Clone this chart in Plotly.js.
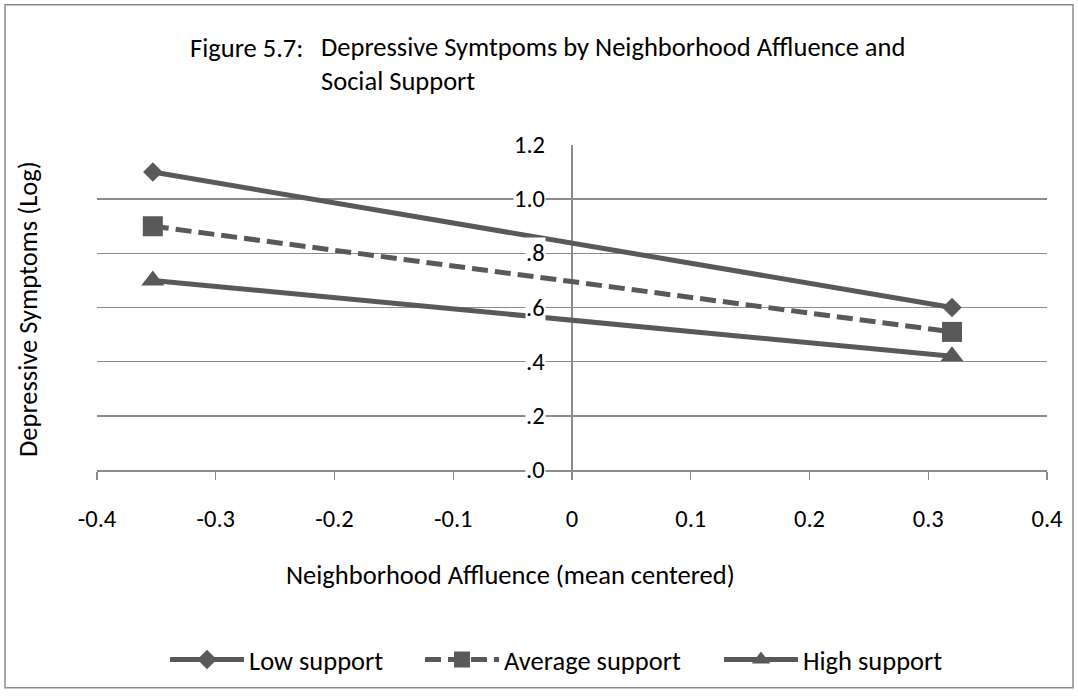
<!DOCTYPE html>
<html>
<head>
<meta charset="utf-8">
<script src="https://cdn.plot.ly/plotly-3.0.1.min.js"></script>
<style>
  html, body { margin: 0; padding: 0; background: #fff; }
  #chart { width: 1078px; height: 696px; }
</style>
</head>
<body>
<div id="chart"></div>
<script>
// Affluence values at one SD below / above the mean (mean centered)
const affluence = [-0.353, 0.32];

// Predicted depressive symptoms (log) for each level of social support
const lowSupport = [1.10, 0.60];
const averageSupport = [0.90, 0.51];
const highSupport = [0.70, 0.42];

const seriesNames = ['Low support', 'Average support', 'High support'];

// Axis ticks
const xTickVals = [-0.4, -0.3, -0.2, -0.1, 0, 0.1, 0.2, 0.3, 0.4];
const xTickText = ['-0.4', '-0.3', '-0.2', '-0.1', '0', '0.1', '0.2', '0.3', '0.4'];
const yTickVals = [0, 0.2, 0.4, 0.6, 0.8, 1.0, 1.2];
const yTickText = ['.0', '.2', '.4', '.6', '.8', '1.0', '1.2'];

const FONT = 'Carlito, Lato, sans-serif';
const INK = '#595959';
const GRID = '#8c8c8c';
const TEXT_SIZE = 26.5;
const TICK_SIZE = 24.5;

// plot area in pixels, used to place the free-floating titles and legends
const L = 97, R = 31, T = 145, B = 224;
const W = 1078 - L - R, H = 696 - T - B;
const px = x => (x - L) / W;
const py = y => (696 - B - y) / H;

const traces = [
  {
    x: affluence, y: lowSupport, name: seriesNames[0], type: 'scatter', mode: 'lines+markers',
    line: { color: INK, width: 5 },
    marker: { symbol: 'diamond', size: 15, color: INK },
    legend: 'legend'
  },
  {
    x: affluence, y: averageSupport, name: seriesNames[1], type: 'scatter', mode: 'lines+markers',
    line: { color: INK, width: 5, dash: '16px,7px' },
    marker: { symbol: 'square', size: 20, color: INK },
    legend: 'legend2'
  },
  {
    x: affluence, y: highSupport, name: seriesNames[2], type: 'scatter', mode: 'lines+markers',
    line: { color: INK, width: 5 },
    marker: { symbol: 'triangle-up', size: 20, color: INK },
    legend: 'legend3'
  }
];

// y tick labels sit beside the vertical axis at x = 0, on a white patch
const yLabelAnnotations = yTickVals.map((v, i) => ({
  x: 0, y: v, xref: 'x', yref: 'y',
  text: yTickText[i], showarrow: false,
  xanchor: 'right', yanchor: 'middle', xshift: -26,
  bgcolor: '#ffffff', borderpad: 0,
  font: { family: FONT, size: TICK_SIZE, color: '#000' }
}));

const legendBase = {
  orientation: 'h', yanchor: 'middle', y: py(663), xanchor: 'left',
  font: { family: FONT, size: TEXT_SIZE, color: '#000' },
  itemwidth: 74, bgcolor: 'rgba(0,0,0,0)', borderwidth: 0
};

const layout = {
  width: 1078, height: 696,
  margin: { l: L, r: R, t: T, b: B },
  paper_bgcolor: '#ffffff', plot_bgcolor: '#ffffff',
  font: { family: FONT, size: TEXT_SIZE, color: '#000' },
  showlegend: true,
  legend: Object.assign({}, legendBase, { x: px(165) }),
  legend2: Object.assign({}, legendBase, { x: px(420) }),
  legend3: Object.assign({}, legendBase, { x: px(719) }),
  xaxis: {
    range: [-0.4, 0.4], tickvals: xTickVals, ticktext: xTickText,
    showgrid: false, zeroline: true, zerolinecolor: GRID, zerolinewidth: 1.5,
    showline: true, linecolor: GRID, linewidth: 1.5,
    ticks: 'outside', ticklen: 8, tickcolor: GRID, tickwidth: 1.2,
    ticklabelstandoff: 18,
    tickfont: { family: FONT, size: TICK_SIZE, color: '#000' },
    fixedrange: true
  },
  yaxis: {
    range: [0, 1.2], tickvals: yTickVals, showticklabels: false,
    showgrid: true, gridcolor: GRID, gridwidth: 1.5,
    zeroline: false, showline: false, ticks: '',
    fixedrange: true
  },
  annotations: [
    {
      xref: 'paper', yref: 'paper', x: px(188), y: py(47),
      xanchor: 'left', yanchor: 'middle', showarrow: false,
      text: 'Figure 5.7:', font: { family: FONT, size: TEXT_SIZE, color: '#000' }
    },
    {
      xref: 'paper', yref: 'paper', x: px(319), y: py(64),
      xanchor: 'left', yanchor: 'middle', align: 'left', showarrow: false,
      text: 'Depressive Symtpoms by Neighborhood Affluence and<br>Social Support',
      font: { family: FONT, size: TEXT_SIZE, color: '#000' }
    },
    {
      xref: 'paper', yref: 'paper', x: px(510), y: py(578),
      xanchor: 'center', yanchor: 'middle', showarrow: false,
      text: 'Neighborhood Affluence (mean centered)', font: { family: FONT, size: TEXT_SIZE, color: '#000' }
    },
    {
      xref: 'paper', yref: 'paper', x: px(28), y: py(310),
      xanchor: 'center', yanchor: 'middle', showarrow: false, textangle: -90,
      text: 'Depressive Symptoms (Log)', font: { family: FONT, size: TEXT_SIZE, color: '#000' }
    }
  ].concat(yLabelAnnotations),
  shapes: [
    {
      type: 'rect', xref: 'paper', yref: 'paper', layer: 'below',
      x0: px(5), x1: px(1073), y0: py(691), y1: py(4),
      line: { color: GRID, width: 1.5 }, fillcolor: 'rgba(0,0,0,0)'
    }
  ]
};

Plotly.newPlot('chart', traces, layout, { displayModeBar: false, staticPlot: true });
</script>
</body>
</html>
